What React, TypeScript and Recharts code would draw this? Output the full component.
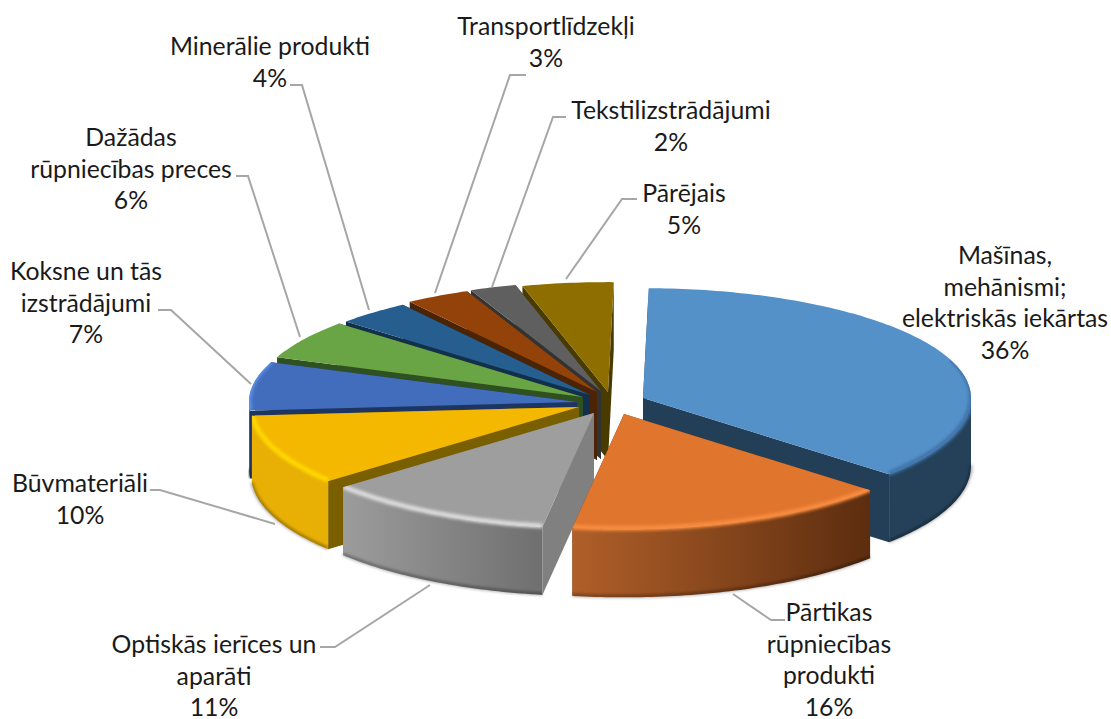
import { PieChart, Pie } from "recharts";

const categories = [
  "Mašīnas, mehānismi; elektriskās iekārtas",
  "Pārtikas rūpniecības produkti",
  "Optiskās ierīces un aparāti",
  "Būvmateriāli",
  "Koksne un tās izstrādājumi",
  "Dažādas rūpniecības preces",
  "Minerālie produkti",
  "Transportlīdzekļi",
  "Tekstilizstrādājumi",
  "Pārējais",
];
// the labels show them rounded
const shares = [36.4, 16.1, 11.4, 10, 7.1, 5.8, 3.7, 3.2, 2.3, 4.5];

// how each label breaks over lines
const labelLines = [
  ["Mašīnas,", "mehānismi;", "elektriskās iekārtas"],
  ["Pārtikas", "rūpniecības", "produkti"],
  ["Optiskās ierīces un", "aparāti"],
  ["Būvmateriāli"],
  ["Koksne un tās", "izstrādājumi"],
  ["Dažādas", "rūpniecības preces"],
  ["Minerālie produkti"],
  ["Transportlīdzekļi"],
  ["Tekstilizstrādājumi"],
  ["Pārējais"],
];

// colours per slice
const topColors = ["#5591C9", "#E0752D", "#9E9E9E", "#F4B800", "#426DBC", "#69A544", "#255E8F", "#934309", "#5F5F5F", "#8F6E00"];
const cutColors = ["#233F58", "#6A3413", "#808080", "#7A5F00", "#1D3560", "#2F5020", "#12304B", "#4B2406", "#333333", "#493A00"];
const wallFrom = ["#254159", "#B05F29", "#9C9C9C", "#E8AF05", "#2F4F8A", "#3D6A28", "#163A5A", "#5C2A06", "#3C3C3C", "#5A4500"];
const wallTo = ["#254159", "#5C2D0F", "#6F6F6F", "#E8AF05", "#2F4F8A", "#3D6A28", "#163A5A", "#5C2A06", "#3C3C3C", "#5A4500"];
const rimColors = ["#3F75AC", "#F88C3F", "#DADADA", "#FFD800", "#5C92E8", "#69A544", "#255E8F", "#934309", "#5F5F5F", "#8F6E00"];

// explosion offset of each slice from the pie centre
const sliceOffsets = [
  [45, -2], [26, 14], [-4, 13], [-19, 7], [-21, 2],
  [-15, -3], [-8, -5], [-1, -8], [3, -9], [10, -8],
];

// label centre x, first baseline y, leader line points
const labelLayout = [
  { x: 1005, y: 264, leader: [] },
  { x: 829, y: 621, leader: [[733, 594], [771, 620], [785, 620]] },
  { x: 214, y: 653, leader: [[430, 585], [335, 647], [320, 647]] },
  { x: 80, y: 492, leader: [[275, 524], [160, 490], [150, 490]] },
  { x: 86, y: 280, leader: [[251, 384], [171, 310], [158, 310]] },
  { x: 131, y: 146, leader: [[300, 337], [248, 176], [236, 176]] },
  { x: 270, y: 55, leader: [[369, 310], [302, 85], [290, 85]] },
  { x: 546, y: 35, leader: [[435, 293], [510, 75], [526, 75]] },
  { x: 671, y: 119, leader: [[492, 287], [553, 117], [566, 117]] },
  { x: 684, y: 202, leader: [[566, 279], [622, 199], [637, 199]] },
];

const WIDTH = 1111;
const HEIGHT = 719;
const CX = 598;
const CY = 400;
const RADIUS = 328;
const FLATTEN = 0.335;
const FRONT_STRETCH = 1.05;
const DEPTH = 68;
const FIRST_ANGLE = 1;
const LINE_HEIGHT = 31.7;
const FONT = "Lato, sans-serif";

const topData = categories.map((name, i) => ({ name, value: shares[i], idx: i }));
// painted back to front: the big slice first, then anticlockwise round to the front
const wallData = [topData[0], ...topData.slice(1).reverse()];
const total = shares.reduce((s, v) => s + v, 0);
const wallStart = 90 - (FIRST_ANGLE + (shares[0] / total) * 360);

function corners(p: any) {
  let a = 90 - Math.max(p.startAngle, p.endAngle);
  let b = 90 - Math.min(p.startAngle, p.endAngle);
  while (a < 0) {
    a += 360;
    b += 360;
  }
  const [dx, dy] = sliceOffsets[p.payload?.idx ?? p.idx];
  const ox = p.cx + dx;
  const oy = p.cy + dy;
  const rx = p.outerRadius;
  const ry = p.outerRadius * FLATTEN;
  const at = (deg: number) => {
    const t = (deg * Math.PI) / 180;
    const cos = Math.cos(t);
    return [ox + rx * Math.sin(t), oy - ry * cos * (cos < 0 ? FRONT_STRETCH : 1)];
  };
  return { a, b, ox, oy, at };
}

// outer edge as a run of short segments, the front half is a bit deeper than the back
function arcPath(c: any, from: number, to: number, drop = 0, reverse = false) {
  const pts: string[] = [];
  const n = Math.max(2, Math.ceil(to - from));
  for (let i = 0; i <= n; i++) {
    const deg = reverse ? to - ((to - from) * i) / n : from + ((to - from) * i) / n;
    const [x, y] = c.at(deg);
    pts.push(`${x} ${y + drop}`);
  }
  return pts.join(" L ");
}

function WallShape(p: any) {
  const idx = p.payload?.idx ?? p.idx;
  const c = corners(p);
  const from = Math.max(c.a, 90);
  const to = Math.min(c.b, 270);
  const [ax, ay] = c.at(c.a);
  const [bx, by] = c.at(c.b);
  const face = (x: number, y: number) =>
    `M ${c.ox} ${c.oy} L ${x} ${y} L ${x} ${y + DEPTH} L ${c.ox} ${c.oy + DEPTH} Z`;
  return (
    <g>
      <path d={face(ax, ay)} fill={cutColors[idx]} />
      <path d={face(bx, by)} fill={cutColors[idx]} />
      {to > from && (
        <>
          <path
            d={`M ${arcPath(c, from, to)} L ${arcPath(c, from, to, DEPTH, true)} Z`}
            fill={`url(#wall-${idx})`}
          />
          <path d={`M ${arcPath(c, from, to, DEPTH - 1)}`} fill="none" stroke="#000" strokeOpacity={0.35} strokeWidth={3} filter="url(#soft)" />
        </>
      )}
    </g>
  );
}

function TopShape(p: any) {
  const idx = p.payload?.idx ?? p.idx;
  const c = corners(p);
  const from = Math.max(c.a, 70);
  const to = Math.min(c.b, 295);
  const top = `M ${c.ox} ${c.oy} L ${arcPath(c, c.a, c.b)} Z`;
  const wallFrom2 = Math.max(c.a, 90);
  const wallTo2 = Math.min(c.b, 270);
  return (
    <g>
      <clipPath id={`rim-${idx}`}>
        <path d={top} />
        {wallTo2 > wallFrom2 && (
          <path d={`M ${arcPath(c, wallFrom2, wallTo2)} L ${arcPath(c, wallFrom2, wallTo2, DEPTH, true)} Z`} />
        )}
      </clipPath>
      <path d={top} fill={topColors[idx]} />
      {to > from && (
        <g clipPath={`url(#rim-${idx})`}>
          <path d={`M ${arcPath(c, from, to, -1)}`} fill="none" stroke={rimColors[idx]} strokeWidth={5} filter="url(#soft)" />
        </g>
      )}
    </g>
  );
}

function SliceLabel(p: any) {
  const idx = p.payload?.idx ?? p.idx ?? p.index;
  const { x, y, leader } = labelLayout[idx];
  const lines = [...labelLines[idx], `${Math.round(shares[idx])}%`];
  return (
    <g>
      {leader.length > 0 && (
        <polyline points={leader.map((q) => q.join(",")).join(" ")} fill="none" stroke="#A6A6A6" strokeWidth={2} />
      )}
      {lines.map((line, i) => (
        <text key={i} x={x} y={y + i * LINE_HEIGHT} textAnchor="middle" fontFamily={FONT} fontSize={24.8} fill="#1a1a1a">
          {line}
        </text>
      ))}
    </g>
  );
}

export default function App() {
  return (
    <div style={{ position: "absolute", left: 0, top: 0, width: WIDTH, height: HEIGHT, background: "#fff" }}>
      <PieChart width={WIDTH} height={HEIGHT} margin={{ top: 0, right: 0, bottom: 0, left: 0 }}>
        <defs>
          <filter id="soft" x="-10%" y="-50%" width="120%" height="200%">
            <feGaussianBlur stdDeviation="1.6" />
          </filter>
          <filter id="shadow" x="-10%" y="-10%" width="120%" height="130%">
            <feDropShadow dx="0" dy="5" stdDeviation="6" floodColor="#000" floodOpacity="0.22" />
          </filter>
          {categories.map((_, i) => (
            <linearGradient key={i} id={`wall-${i}`} x1="0" y1="0" x2="1" y2="0">
              <stop offset="0%" stopColor={wallFrom[i]} />
              <stop offset="100%" stopColor={wallTo[i]} />
            </linearGradient>
          ))}
        </defs>
        <Pie
          data={wallData}
          dataKey="value"
          nameKey="name"
          cx={CX}
          cy={CY}
          outerRadius={RADIUS}
          startAngle={wallStart}
          endAngle={wallStart + 360}
          stroke="none"
          style={{ filter: "url(#shadow)" }}
          shape={WallShape}
          isAnimationActive={false}
        />
        <Pie
          data={topData}
          dataKey="value"
          nameKey="name"
          cx={CX}
          cy={CY}
          outerRadius={RADIUS}
          startAngle={90 - FIRST_ANGLE}
          endAngle={90 - FIRST_ANGLE - 360}
          stroke="none"
          shape={TopShape}
          label={SliceLabel}
          labelLine={false}
          isAnimationActive={false}
        />
      </PieChart>
    </div>
  );
}
